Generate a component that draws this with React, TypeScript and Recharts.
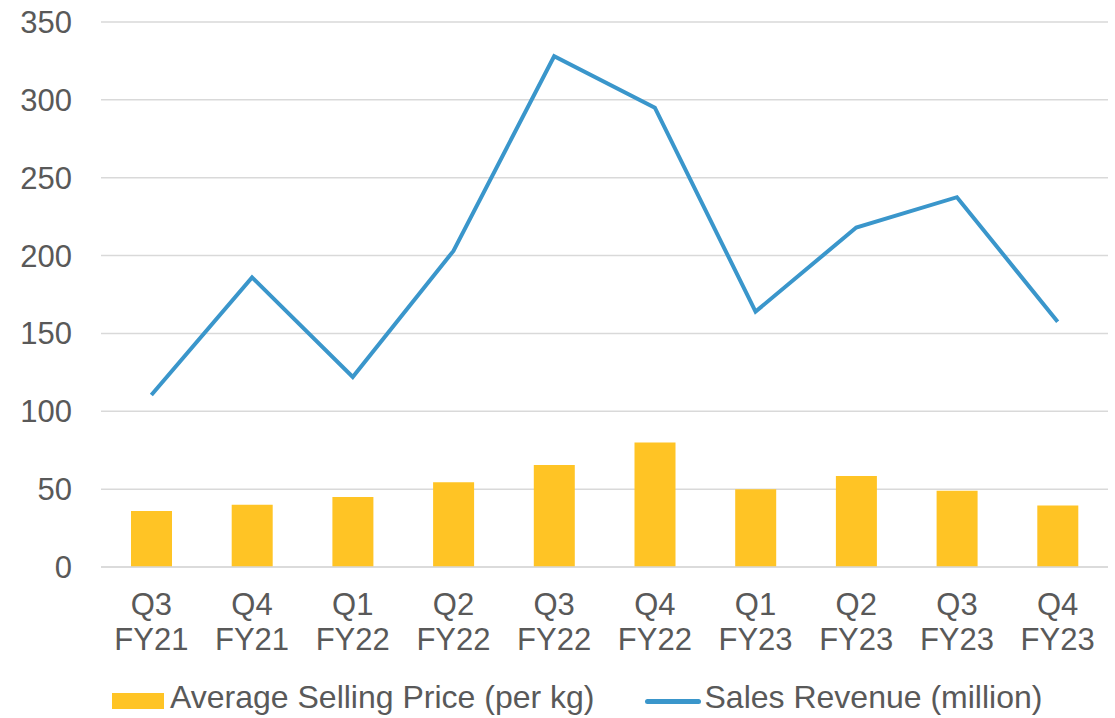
import React from 'react'
import { ComposedChart, Bar, Line, XAxis, YAxis, CartesianGrid } from 'recharts'

const quarters = ['Q3', 'Q4', 'Q1', 'Q2', 'Q3', 'Q4', 'Q1', 'Q2', 'Q3', 'Q4']
const years = ['FY21', 'FY21', 'FY22', 'FY22', 'FY22', 'FY22', 'FY23', 'FY23', 'FY23', 'FY23']
const avgPrice = [36, 40, 45, 54.5, 65.5, 80, 50, 58.5, 49, 39.5]
const revenue = [110.5, 186, 122, 203, 328, 295, 164, 218, 237.5, 157.5]
const yTicks = [0, 50, 100, 150, 200, 250, 300, 350]

const data = quarters.map((q, i) => ({
  label: `${q} ${years[i]}`,
  quarter: q,
  year: years[i],
  price: avgPrice[i],
  revenue: revenue[i],
}))

const TEXT = '#595959'
const FONT = '"Liberation Sans", Arial, sans-serif'
const BAR_COLOR = '#FFC425'
const LINE_COLOR = '#3A96CB'

function TwoLineTick(props: any) {
  const { x, y, index } = props
  return (
    <text x={x} y={y} textAnchor="middle" fill={TEXT} fontSize={31} fontFamily={FONT}>
      <tspan x={x} dy={48}>{quarters[index]}</tspan>
      <tspan x={x} dy={35}>{years[index]}</tspan>
    </text>
  )
}

export default function App() {
  const labelStyle = { position: 'relative' as const, top: -4 }
  return (
    <div style={{ position: 'relative', width: 1115, height: 718, background: '#fff', fontFamily: FONT }}>
      <style>{`body{margin:0}`}</style>
      <ComposedChart
        width={1115}
        height={718}
        data={data}
        margin={{ top: 22, right: 7, left: 0, bottom: 51 }}
        barCategoryGap={0}
      >
        <CartesianGrid vertical={false} stroke="#d9d9d9" strokeWidth={1.5} />
        <XAxis
          dataKey="label"
          height={100}
          axisLine={{ stroke: '#d9d9d9', strokeWidth: 1.5 }}
          tickLine={false}
          tickSize={0}
          tickMargin={0}
          interval={0}
          tick={<TwoLineTick />}
        />
        <YAxis
          width={101}
          domain={[0, 350]}
          ticks={yTicks}
          axisLine={false}
          tickLine={false}
          tickSize={0}
          tickMargin={29}
          tick={{ fill: TEXT, fontSize: 31, fontFamily: FONT }}
        />
        <Bar dataKey="price" fill={BAR_COLOR} barSize={41} isAnimationActive={false} />
        <Line
          dataKey="revenue"
          stroke={LINE_COLOR}
          strokeWidth={4}
          dot={false}
          type="linear"
          isAnimationActive={false}
        />
      </ComposedChart>
      <div style={{ position: 'absolute', left: 112, top: 682, height: 38, display: 'flex', alignItems: 'center', color: TEXT, fontSize: 32, whiteSpace: 'nowrap' }}>
        <span style={{ display: 'inline-block', width: 52, height: 16, background: BAR_COLOR, marginRight: 6 }} />
        <span style={labelStyle}>Average Selling Price (per kg)</span>
        <span style={{ display: 'inline-block', width: 56, height: 5, borderRadius: 3, background: LINE_COLOR, marginLeft: 50, marginRight: 4 }} />
        <span style={labelStyle}>Sales Revenue (million)</span>
      </div>
    </div>
  )
}
